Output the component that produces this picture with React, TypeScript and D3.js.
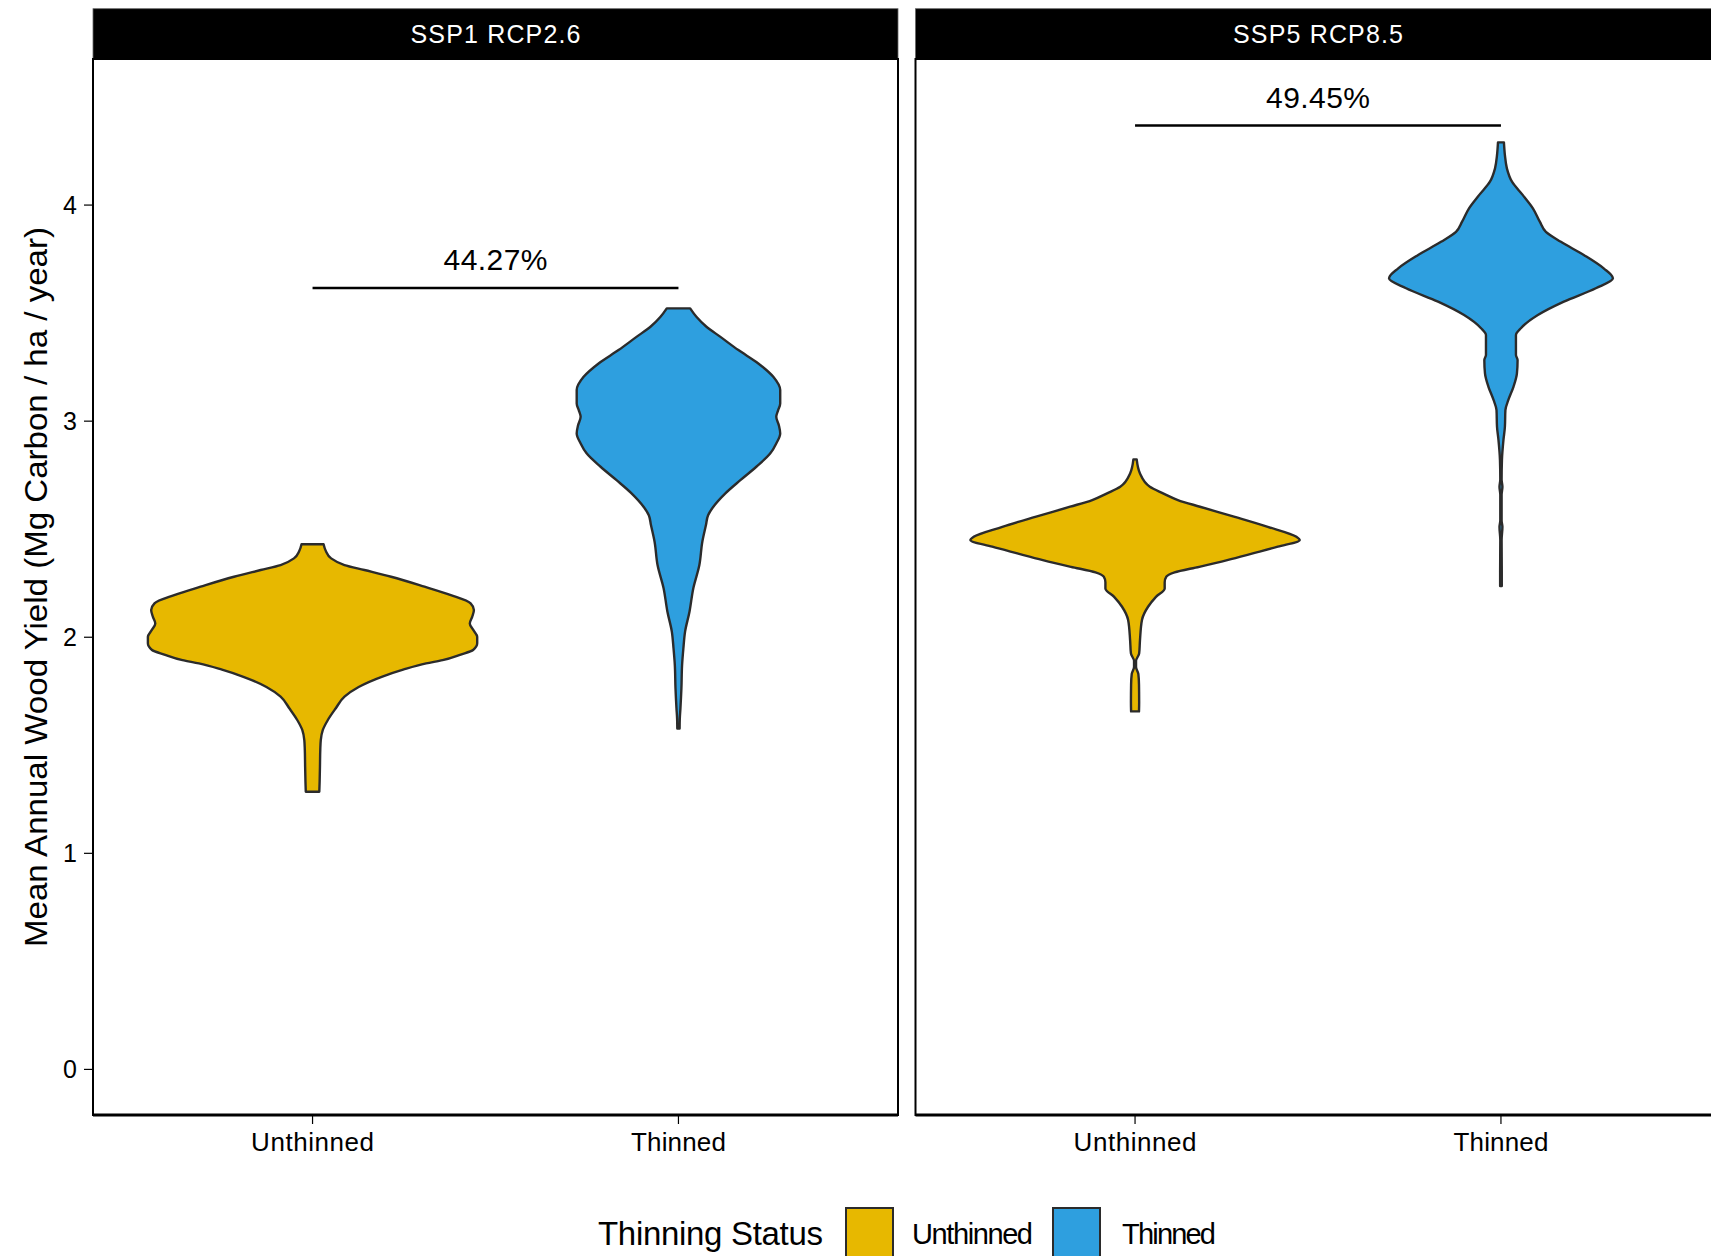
import React from "react";
import * as d3 from "d3";

// Facets, groups and colours
const scenarios = ["SSP1 RCP2.6", "SSP5 RCP8.5"];
const groups = ["Unthinned", "Thinned"];
const groupFills = ["#E7B800", "#2E9FDF"];
const yTicks = [0, 1, 2, 3, 4];

// Kernel density profiles: [yield, relative density]
const ssp1Unthinned: [number, number][] = [
  [1.285, 0.041], [1.33, 0.043], [1.4, 0.045], [1.48, 0.047], [1.524, 0.05],
  [1.57, 0.062], [1.617, 0.093], [1.67, 0.14], [1.725, 0.194], [1.77, 0.28],
  [1.817, 0.42], [1.85, 0.55], [1.879, 0.69], [1.894, 0.79], [1.92, 0.9],
  [1.941, 0.975], [1.972, 1.0], [2.002, 1.0], [2.035, 0.975], [2.064, 0.955],
  [2.095, 0.97], [2.126, 0.98], [2.157, 0.96], [2.195, 0.84], [2.234, 0.68],
  [2.28, 0.477], [2.311, 0.315], [2.334, 0.194], [2.365, 0.113], [2.4, 0.08],
  [2.43, 0.067],
];

const ssp1Thinned: [number, number][] = [
  [1.578, 0.007], [1.62, 0.008], [1.671, 0.012], [1.764, 0.018], [1.871, 0.022],
  [1.949, 0.03], [2.025, 0.04], [2.118, 0.067], [2.226, 0.09], [2.334, 0.127],
  [2.442, 0.145], [2.519, 0.167], [2.565, 0.18], [2.604, 0.212], [2.666, 0.285],
  [2.727, 0.376], [2.789, 0.473], [2.851, 0.558], [2.897, 0.594], [2.943, 0.618],
  [2.98, 0.61], [3.02, 0.594], [3.05, 0.605], [3.082, 0.618], [3.144, 0.618],
  [3.205, 0.576], [3.267, 0.485], [3.329, 0.364], [3.39, 0.255], [3.437, 0.17],
  [3.483, 0.109], [3.522, 0.071],
];

const ssp5Unthinned: [number, number][] = [
  [1.657, 0.024], [1.7, 0.025], [1.78, 0.024], [1.83, 0.02], [1.862, 0.006],
  [1.89, 0.006], [1.925, 0.025], [1.987, 0.03], [2.08, 0.042], [2.141, 0.079],
  [2.187, 0.127], [2.226, 0.18], [2.255, 0.18], [2.28, 0.19], [2.3, 0.24],
  [2.326, 0.39], [2.357, 0.56], [2.388, 0.715], [2.419, 0.867], [2.45, 1.0],
  [2.465, 0.98], [2.511, 0.806], [2.557, 0.606], [2.604, 0.394], [2.635, 0.26],
  [2.666, 0.17], [2.696, 0.09], [2.758, 0.03], [2.823, 0.01],
];

const ssp5Thinned: [number, number][] = [
  [2.237, 0.005], [2.3, 0.005], [2.45, 0.004], [2.511, 0.009], [2.54, 0.004],
  [2.66, 0.004], [2.696, 0.009], [2.73, 0.004], [2.82, 0.006], [2.912, 0.015],
  [2.974, 0.024], [3.051, 0.027], [3.098, 0.045], [3.159, 0.076], [3.221, 0.097],
  [3.283, 0.101], [3.306, 0.091], [3.36, 0.091], [3.398, 0.091], [3.43, 0.121],
  [3.491, 0.224], [3.553, 0.382], [3.615, 0.576], [3.661, 0.68], [3.707, 0.624],
  [3.769, 0.503], [3.83, 0.364], [3.876, 0.273], [3.923, 0.236], [3.985, 0.194],
  [4.046, 0.133], [4.108, 0.067], [4.17, 0.036], [4.231, 0.024], [4.29, 0.018],
];

const profiles = [
  [ssp1Unthinned, ssp1Thinned],
  [ssp5Unthinned, ssp5Thinned],
];

// Percentage change annotations and their bracket heights
const sigLabels = ["44.27%", "49.45%"];
const sigY = [3.616, 4.368];

const W = 1711;
const H = 1256;
const panelLeft = 93;
const panelWidth = 805;
const panelGap = 17.5;
const stripTop = 8.7;
const panelTop = 59;
const panelBottom = 1115;

const narrow = "'Liberation Sans Narrow', 'Liberation Sans', Arial, sans-serif";
const regular = "'Liberation Sans', Arial, sans-serif";

export default function App() {
  const y = d3.scaleLinear().domain([-0.211, 4.676]).range([panelBottom, panelTop]);

  return (
    <svg
      width={W}
      height={H}
      style={{ position: "absolute", left: 0, top: 0, background: "#fff" }}
    >
      <rect x={0} y={0} width={W} height={H} fill="#fff" />
      {scenarios.map((sc, i) => {
        const left = panelLeft + i * (panelWidth + panelGap);
        const x = d3
          .scalePoint<string>()
          .domain(groups)
          .range([left, left + panelWidth])
          .padding(0.6);
        const step = x.step();
        const pr = profiles[i];
        const maxD = d3.max(pr.flat(), (d) => d[1]) as number;
        const sx1 = x(groups[0]) as number;
        const sx2 = x(groups[1]) as number;
        return (
          <g key={sc}>
            {/* strip */}
            <rect
              x={left}
              y={stripTop}
              width={panelWidth}
              height={panelTop - stripTop}
              fill="#000"
              stroke="#666"
              strokeWidth={0.8}
            />
            <text
              x={left + panelWidth / 2}
              y={(stripTop + panelTop) / 2}
              dy="0.36em"
              textAnchor="middle"
              fill="#fff"
              fontFamily={narrow}
              fontSize={25}
              textLength={170}
              lengthAdjust="spacing"
            >
              {sc}
            </text>

            {/* violins */}
            {groups.map((g, j) => {
              const cx = x(g) as number;
              const area = d3
                .area<[number, number]>()
                .y((d) => y(d[0]))
                .x0((d) => cx - (d[1] / maxD) * 0.45 * step)
                .x1((d) => cx + (d[1] / maxD) * 0.45 * step)
                .curve(d3.curveMonotoneY);
              return (
                <path
                  key={g}
                  d={area(pr[j]) || ""}
                  fill={groupFills[j]}
                  stroke="#2b2b2b"
                  strokeWidth={2.4}
                  strokeLinejoin="round"
                />
              );
            })}

            {/* percentage bracket */}
            <line
              x1={sx1}
              x2={sx2}
              y1={y(sigY[i])}
              y2={y(sigY[i])}
              stroke="#000"
              strokeWidth={2.4}
            />
            <text
              x={(sx1 + sx2) / 2}
              y={y(sigY[i]) - 18}
              textAnchor="middle"
              fill="#000"
              fontFamily={narrow}
              fontSize={30}
              textLength={104}
              lengthAdjust="spacing"
            >
              {sigLabels[i]}
            </text>

            {/* panel frame */}
            <rect
              x={left}
              y={panelTop}
              width={panelWidth}
              height={panelBottom - panelTop}
              fill="none"
              stroke="#000"
              strokeWidth={2}
            />
            <line
              x1={left}
              x2={left + panelWidth}
              y1={panelBottom}
              y2={panelBottom}
              stroke="#000"
              strokeWidth={3}
            />

            {/* x axis */}
            {groups.map((g) => (
              <g key={g}>
                <line
                  x1={x(g)}
                  x2={x(g)}
                  y1={panelBottom}
                  y2={panelBottom + 9}
                  stroke="#000"
                  strokeWidth={1.2}
                />
                <text
                  x={x(g)}
                  y={1151}
                  textAnchor="middle"
                  fill="#000"
                  fontFamily={narrow}
                  fontSize={26}
                  textLength={g === "Unthinned" ? 123 : 95}
                  lengthAdjust="spacing"
                >
                  {g}
                </text>
              </g>
            ))}

            {/* y axis on the first panel only */}
            {i === 0 &&
              yTicks.map((t) => (
                <g key={t}>
                  <line
                    x1={left - 9}
                    x2={left}
                    y1={y(t)}
                    y2={y(t)}
                    stroke="#000"
                    strokeWidth={1.2}
                  />
                  <text
                    x={left - 16}
                    y={y(t)}
                    dy="0.36em"
                    textAnchor="end"
                    fill="#000"
                    fontFamily={narrow}
                    fontSize={25}
                  >
                    {t}
                  </text>
                </g>
              ))}
          </g>
        );
      })}

      {/* y axis title */}
      <text
        transform={`translate(35, ${(panelTop + panelBottom) / 2}) rotate(-90)`}
        dy="0.36em"
        textAnchor="middle"
        fill="#000"
        fontFamily={regular}
        fontSize={32}
        textLength={720}
        lengthAdjust="spacingAndGlyphs"
      >
        Mean Annual Wood Yield (Mg Carbon / ha / year)
      </text>

      {/* legend */}
      <g>
        <text
          x={598}
          y={1245}
          fill="#000"
          fontFamily={narrow}
          fontSize={33}
          textLength={225}
          lengthAdjust="spacing"
        >
          Thinning Status
        </text>
        {groups.map((g, j) => {
          const kx = [846, 1053][j];
          const lx = [912, 1122][j];
          return (
            <g key={g}>
              <rect
                x={kx}
                y={1208}
                width={47}
                height={56}
                fill={groupFills[j]}
                stroke="#2b2b2b"
                strokeWidth={2}
              />
              <text
                x={lx}
                y={1244}
                fill="#000"
                fontFamily={narrow}
                fontSize={29}
                textLength={g === "Unthinned" ? 121 : 94}
                lengthAdjust="spacing"
              >
                {g}
              </text>
            </g>
          );
        })}
      </g>
    </svg>
  );
}
